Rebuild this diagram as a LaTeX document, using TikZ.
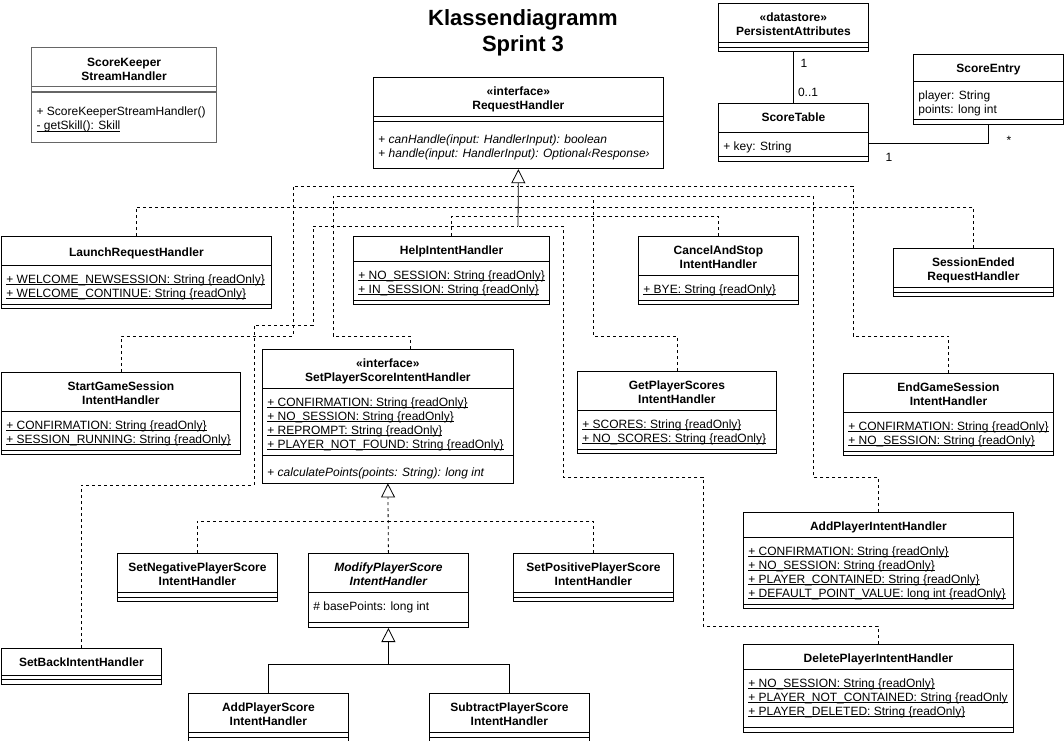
\documentclass[tikz,border=0pt]{standalone}
\usepackage{fontspec}
\setmainfont{Liberation Sans}
\usepackage{array}
\usetikzlibrary{positioning,arrows.meta,shapes.multipart}
% class compartments: header (bold, centred) and member list (left)
\newcommand{\hd}[2][4.2pt]{\begin{tabular}{@{}>{\bfseries}c@{}}\rule{0pt}{15.8pt}#2\rule[-#1]{0pt}{0pt}\end{tabular}}
\newcommand{\ls}[2][4.2pt]{\begin{tabular}{@{}l@{}}\rule{0pt}{15.8pt}#2\rule[-#1]{0pt}{0pt}\end{tabular}}
\newcommand{\nopart}{\hbox to 1pt{}}
\newcommand{\stat}[1]{\setbox0\hbox{#1}\rlap{\rule[-1.7pt]{\wd0}{0.7pt}}\box0}
\newcommand{\ro}{String \{readOnly\}}
\tikzset{
  cls/.style={rectangle split, rectangle split parts=3, draw, line width=0.8pt,
              anchor=north west, inner xsep=5pt, inner ysep=2pt,
              rectangle split part align={center,left,left},
              font=\fontsize{12}{14}\selectfont},
  real/.style={dash pattern=on 3pt off 3pt, line width=0.8pt},
  gen/.style={line width=0.8pt},
  tri/.style={-{Triangle[open, length=14pt, width=14pt, fill=white]}},
  mult/.style={font=\fontsize{12}{14}\selectfont, inner sep=0pt}
}
\begin{document}
\begin{tikzpicture}[x=1pt, y=-1pt]
\useasboundingbox (0,0) rectangle (1064,740);
% title
\node[font=\fontsize{22}{26}\selectfont\bfseries, align=center, anchor=north, inner sep=0pt] (title) at (523,9) {Klassendiagramm\\Sprint 3};
% top row
\node[cls, minimum width=185, draw=black!60, line width=1.2pt] (keeper) at (31,47) {\hd{ScoreKeeper\\StreamHandler}\nodepart{two}\nopart\nodepart{three}\ls[10pt]{\rule{0pt}{21pt}+ ScoreKeeperStreamHandler()\\\stat{- getSkill(): Skill}}};
\node[cls, minimum width=290] (req) at (373,77) {\hd{«interface»\\RequestHandler}\nodepart{two}\nopart\nodepart{three}\ls[9pt]{\rule{0pt}{20pt}+ \textit{canHandle(input: HandlerInput): boolean}\\+ \textit{handle(input: HandlerInput): Optional‹Response›}}};
\node[cls, minimum width=150] (pa) at (718,3) {\hd{«datastore»\\PersistentAttributes}\nodepart{two}\nopart\nodepart{three}\nopart};
\node[cls, minimum width=150] (st) at (718,103) {\hd[8pt]{ScoreTable}\nodepart{two}\ls{+ key: String}\nodepart{three}\nopart};
\node[cls, minimum width=150] (se) at (913,54) {\hd[6pt]{ScoreEntry}\nodepart{two}\ls{player: String\\points: long int}\nodepart{three}\nopart};
% handlers
\node[cls, minimum width=270] (launch) at (1,236) {\hd[6pt]{\rule{0pt}{18pt}LaunchRequestHandler}\nodepart{two}\ls{\stat{+ WELCOME\_NEWSESSION: \ro}\\\stat{+ WELCOME\_CONTINUE: \ro}}\nodepart{three}\nopart};
\node[cls, minimum width=195] (help) at (353,236) {\hd{HelpIntentHandler}\nodepart{two}\ls{\stat{+ NO\_SESSION: \ro}\\\stat{+ IN\_SESSION: \ro}}\nodepart{three}\nopart};
\node[cls, minimum width=160] (cancel) at (638,236) {\hd{CancelAndStop\\IntentHandler}\nodepart{two}\ls{\stat{+ BYE: \ro}}\nodepart{three}\nopart};
\node[cls, minimum width=160] (sessend) at (893,248) {\hd{SessionEnded\\RequestHandler}\nodepart{two}\nopart\nodepart{three}\nopart};
\node[cls, minimum width=239] (startgs) at (1,372) {\hd{StartGameSession\\IntentHandler}\nodepart{two}\ls{\stat{+ CONFIRMATION: \ro}\\\stat{+ SESSION\_RUNNING: \ro}}\nodepart{three}\nopart};
\node[cls, minimum width=251] (sps) at (262,349) {\hd{«interface»\\SetPlayerScoreIntentHandler}\nodepart{two}\ls{\stat{+ CONFIRMATION: \ro}\\\stat{+ NO\_SESSION: \ro}\\\stat{+ REPROMPT: \ro}\\\stat{+ PLAYER\_NOT\_FOUND: \ro}}\nodepart{three}\ls{\rule{0pt}{19pt}+ \textit{calculatePoints(points: String): long int}}};
\node[cls, minimum width=199] (getps) at (577,371) {\hd{GetPlayerScores\\IntentHandler}\nodepart{two}\ls{\stat{+ SCORES: \ro}\\\stat{+ NO\_SCORES: \ro}}\nodepart{three}\nopart};
\node[cls, minimum width=210] (endgs) at (843,373) {\hd{EndGameSession\\IntentHandler}\nodepart{two}\ls{\stat{+ CONFIRMATION: \ro}\\\stat{+ NO\_SESSION: \ro}}\nodepart{three}\nopart};
\node[cls, minimum width=270] (addpl) at (743,512) {\hd{AddPlayerIntentHandler}\nodepart{two}\ls{\stat{+ CONFIRMATION: \ro}\\\stat{+ NO\_SESSION: \ro}\\\stat{+ PLAYER\_CONTAINED: \ro}\\\stat{+ DEFAULT\_POINT\_VALUE: long int \{readOnly\}}}\nodepart{three}\nopart};
\node[cls, minimum width=270] (delpl) at (743,644) {\hd{DeletePlayerIntentHandler}\nodepart{two}\ls[10pt]{\stat{+ NO\_SESSION: \ro}\\\stat{+ PLAYER\_NOT\_CONTAINED: String \{readOnly}\\\stat{+ PLAYER\_DELETED: \ro}}\nodepart{three}\nopart};
% score modifiers
\node[cls, minimum width=160] (setneg) at (117,553) {\hd{SetNegativePlayerScore\\IntentHandler}\nodepart{two}\nopart\nodepart{three}\nopart};
\node[cls, minimum width=160] (modify) at (308,553) {\hd{\itshape ModifyPlayerScore\\\itshape IntentHandler}\nodepart{two}\ls[10pt]{\# basePoints: long int}\nodepart{three}\nopart};
\node[cls, minimum width=160] (setpos) at (513,553) {\hd{SetPositivePlayerScore\\IntentHandler}\nodepart{two}\nopart\nodepart{three}\nopart};
\node[cls, minimum width=160] (setback) at (1,648) {\hd[6pt]{SetBackIntentHandler}\nodepart{two}\nopart\nodepart{three}\nopart};
\node[cls, minimum width=160] (addps) at (188,693) {\hd{AddPlayerScore\\IntentHandler}\nodepart{two}\nopart\nodepart{three}\nopart};
\node[cls, minimum width=160] (subps) at (429,693) {\hd{SubtractPlayerScore\\IntentHandler}\nodepart{two}\nopart\nodepart{three}\nopart};
% realizations of RequestHandler
\coordinate (hub) at (518,226);
\draw[gen, tri] (hub) -- (req.south);
\draw[real] (launch.north) |- (hub |- 0,207);
\draw[real] (sessend.north) |- (hub |- 0,207);
\draw[real] (help.north) |- (hub |- 0,216);
\draw[real] (cancel.north) |- (hub |- 0,216);
\draw[real] (startgs.north) |- (293,336) |- (hub |- 0,186);
\draw[real] (endgs.north) |- (853,336) |- (hub |- 0,186);
\draw[real] ([xshift=22.5pt]sps.north) |- (333,336) |- (hub |- 0,196);
\draw[real] (getps.north) |- (593,336) |- (hub |- 0,196);
\draw[real] (addpl.north) |- (813,477) |- (593,196);
\draw[real] (setback.north) |- (254,485) |- (313,325) |- (hub);
\draw[real] (delpl.north) |- (703,626) |- (563,477) |- (hub);
% SetPlayerScoreIntentHandler
\draw[real, tri] (modify.north) -- (sps.south);
\draw[real] (setneg.north) |- (modify.north |- 0,521);
\draw[real] (setpos.north) |- (modify.north |- 0,521);
% ModifyPlayerScoreIntentHandler
\coordinate (mhub) at (modify.south |- 0,664);
\draw[gen, tri] (mhub) -- (modify.south);
\draw[gen] (addps.north) |- (mhub);
\draw[gen] (subps.north) |- (mhub);
% associations
\draw[gen] (pa.south) -- (st.north);
\node[mult] (m1) at (804,63) {1};
\node[mult] (m2) at (808,92) {0..1};
\draw[gen] (st.east |- 0,143) -| (se.south);
\node[mult] (m3) at (1009,140) {*};
\node[mult] (m4) at (889,157) {1};
\end{tikzpicture}
\end{document}
